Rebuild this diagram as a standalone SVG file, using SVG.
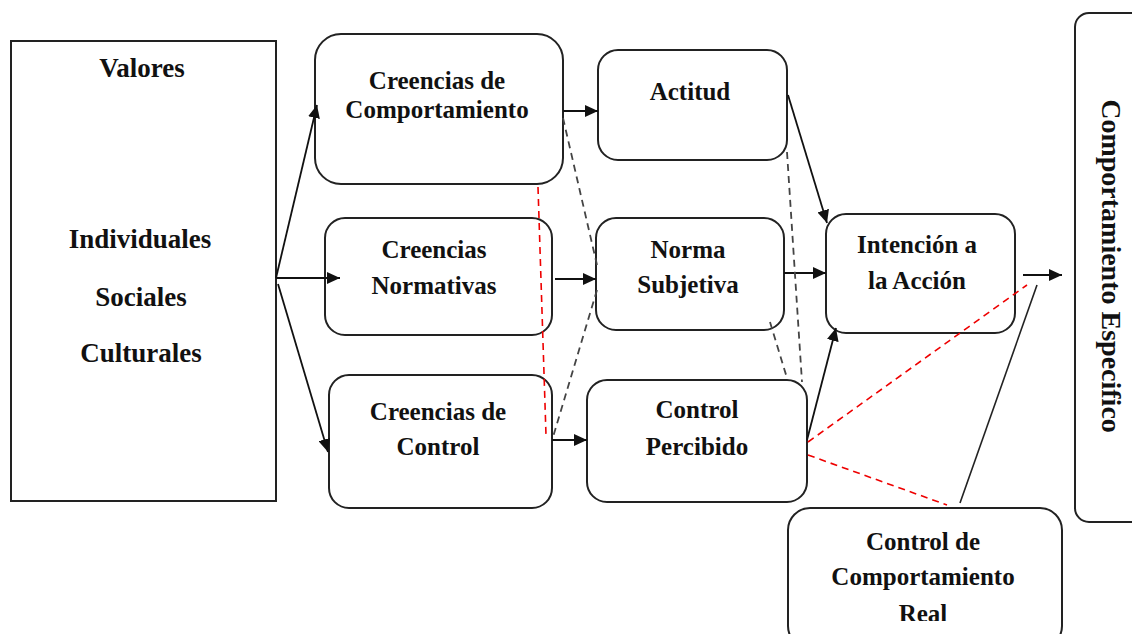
<svg xmlns="http://www.w3.org/2000/svg" width="1132" height="634" viewBox="0 0 1132 634">
  <style>
    .box { fill: #fff; stroke: #222; stroke-width: 2; }
    .lbl { font-family: "Liberation Serif", "Times New Roman", serif; font-weight: bold; font-size: 25px; fill: #111; text-anchor: middle; }
    .big { font-size: 27px; }
    .side { font-size: 28px; }
    .arrow { stroke: #111; stroke-width: 1.8; fill: none; marker-end: url(#head); }
    .solid { stroke: #222; stroke-width: 1.6; fill: none; }
    .dash { stroke: #444; stroke-width: 1.8; stroke-dasharray: 7 5; fill: none; }
    .red { stroke: #e00; stroke-width: 1.6; stroke-dasharray: 7 5; fill: none; }
  </style>
  <defs>
    <marker id="head" markerUnits="userSpaceOnUse" markerWidth="14" markerHeight="12" refX="13" refY="6" orient="auto">
      <path d="M0,0 L13,6 L0,12 z" fill="#111"/>
    </marker>
    <clipPath id="cutBottom">
      <rect x="0" y="0" width="1132" height="621"/>
    </clipPath>
  </defs>
  <rect width="1132" height="634" fill="#fff"/>

  <g id="valores">
    <rect class="box" x="11" y="41" width="265" height="460"/>
    <text class="lbl big" x="142" y="77">Valores</text>
    <text class="lbl big" x="140" y="248">Individuales</text>
    <text class="lbl big" x="141" y="306">Sociales</text>
    <text class="lbl big" x="141" y="362">Culturales</text>
  </g>

  <g id="creencias-comportamiento">
    <rect class="box" x="315" y="34" width="248" height="150" rx="26"/>
    <text class="lbl" x="437" y="89">Creencias de</text>
    <text class="lbl" x="437" y="118">Comportamiento</text>
  </g>

  <g id="creencias-normativas">
    <rect class="box" x="325" y="218" width="227" height="117" rx="20"/>
    <text class="lbl" x="434" y="258">Creencias</text>
    <text class="lbl" x="434" y="294">Normativas</text>
  </g>

  <g id="creencias-control">
    <rect class="box" x="329" y="375" width="223" height="133" rx="20"/>
    <text class="lbl" x="438" y="420">Creencias de</text>
    <text class="lbl" x="438" y="455">Control</text>
  </g>

  <g id="actitud">
    <rect class="box" x="598" y="50" width="189" height="110" rx="20"/>
    <text class="lbl" x="690" y="100">Actitud</text>
  </g>

  <g id="norma-subjetiva">
    <rect class="box" x="596" y="218" width="188" height="112" rx="20"/>
    <text class="lbl" x="688" y="258">Norma</text>
    <text class="lbl" x="688" y="293">Subjetiva</text>
  </g>

  <g id="control-percibido">
    <rect class="box" x="587" y="380" width="220" height="122" rx="20"/>
    <text class="lbl" x="697" y="418">Control</text>
    <text class="lbl" x="697" y="455">Percibido</text>
  </g>

  <g id="intencion">
    <rect class="box" x="826" y="214" width="189" height="119" rx="20"/>
    <text class="lbl" x="917" y="253">Intención a</text>
    <text class="lbl" x="917" y="289">la Acción</text>
  </g>

  <g id="control-real">
    <rect class="box" x="788" y="508" width="274" height="140" rx="22"/>
    <g clip-path="url(#cutBottom)">
      <text class="lbl" x="923" y="550">Control de</text>
      <text class="lbl" x="923" y="585">Comportamiento</text>
      <text class="lbl" x="923" y="622">Real</text>
    </g>
  </g>

  <g id="comportamiento-especifico">
    <rect class="box" x="1075" y="13" width="80" height="509" rx="14"/>
    <text class="lbl side" transform="translate(1102,266) rotate(90)">Comportamiento Especifico</text>
  </g>

  <!-- connectors, drawn over the boxes -->
  <g id="connectors">
    <line class="arrow" x1="276" y1="278" x2="317" y2="105"/>
    <line class="arrow" x1="276" y1="278" x2="340" y2="278"/>
    <line class="arrow" x1="278" y1="284" x2="328" y2="452"/>
    <line class="arrow" x1="563" y1="111" x2="598" y2="111"/>
    <line class="arrow" x1="555" y1="279" x2="596" y2="279"/>
    <line class="arrow" x1="552" y1="440" x2="587" y2="440"/>
    <line class="arrow" x1="788" y1="95" x2="827" y2="223"/>
    <line class="arrow" x1="784" y1="273" x2="826" y2="273"/>
    <line class="arrow" x1="807" y1="440" x2="836" y2="328"/>
    <line class="arrow" x1="1023" y1="275" x2="1062" y2="275"/>
    <line class="solid" x1="1037" y1="285" x2="960" y2="503"/>
    <line class="dash" x1="563" y1="118" x2="597" y2="265"/>
    <line class="dash" x1="597" y1="290" x2="553" y2="437"/>
    <line class="dash" x1="787" y1="152" x2="802" y2="382"/>
    <line class="dash" x1="770" y1="322" x2="787" y2="378"/>
    <line class="red" x1="538" y1="187" x2="546" y2="435"/>
    <line class="red" x1="808" y1="442" x2="1027" y2="285"/>
    <line class="red" x1="808" y1="455" x2="947" y2="505"/>
  </g>
</svg>
